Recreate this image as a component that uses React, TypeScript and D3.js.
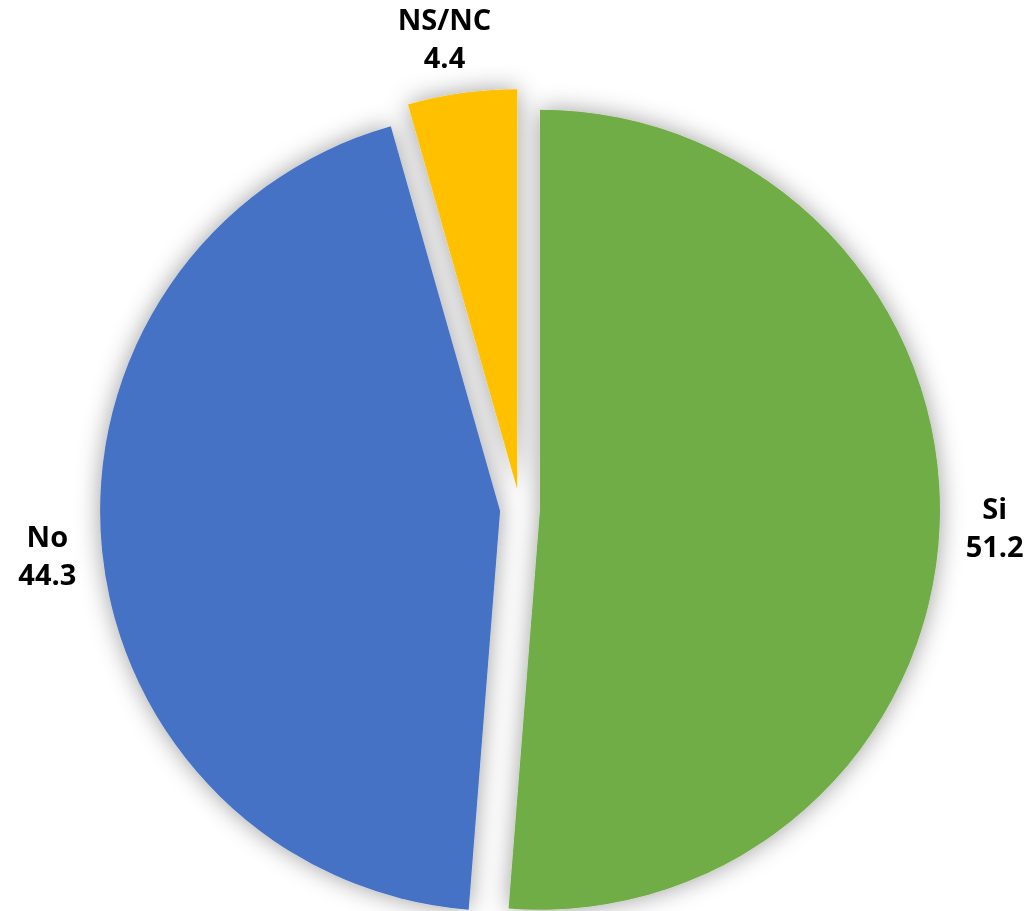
import React, { useEffect, useRef } from 'react';
import { select, pie, arc } from 'd3';

const categories = ['Si', 'No', 'NS/NC'];
const values = [51.2, 44.3, 4.4];
const colors = ['#70AD47', '#4472C4', '#FFC000'];

// small manual label nudges (Excel puts labels a bit off the radial line)
const labelNudge: Record<string, [number, number]> = {
  Si: [0, 0],
  No: [0, 0],
  'NS/NC': [-10, 0],
};

const W = 1031;
const H = 911;

interface Slice {
  label: string;
  value: number;
  color: string;
}

const App: React.FC = () => {
  const svgRef = useRef<SVGSVGElement>(null);

  useEffect(() => {
    document.body.style.margin = '0';
    if (!svgRef.current) return;
    const svg = select(svgRef.current);
    svg.selectAll('*').remove();

    const cx = 520;
    const cy = 509;
    const radius = 400;
    const explode = 20;
    const labelR = 455;

    const data: Slice[] = categories.map((c, i) => ({ label: c, value: values[i], color: colors[i] }));

    const pieGen = pie<Slice>().sort(null).value(d => d.value);
    const arcs = pieGen(data);
    const arcGen = arc<any>().innerRadius(0).outerRadius(radius);

    const defs = svg.append('defs');
    const filter = defs.append('filter')
      .attr('id', 'soft')
      .attr('x', '-20%').attr('y', '-20%')
      .attr('width', '140%').attr('height', '140%');
    filter.append('feGaussianBlur').attr('in', 'SourceAlpha').attr('stdDeviation', 12).attr('result', 'b');
    filter.append('feFlood').attr('flood-color', '#000').attr('flood-opacity', 0.38).attr('result', 'f');
    filter.append('feComposite').attr('in', 'f').attr('in2', 'b').attr('operator', 'in').attr('result', 's');
    const merge = filter.append('feMerge');
    merge.append('feMergeNode').attr('in', 's');
    merge.append('feMergeNode').attr('in', 'SourceGraphic');

    svg.append('rect').attr('width', W).attr('height', H).attr('fill', '#fff');

    const g = svg.append('g')
      .attr('transform', `translate(${cx},${cy})`)
      .attr('filter', 'url(#soft)');

    const offset = (d: any, r: number): [number, number] => {
      const a = (d.startAngle + d.endAngle) / 2;
      return [Math.sin(a) * r, -Math.cos(a) * r];
    };

    g.selectAll('path')
      .data(arcs)
      .join('path')
      .attr('transform', d => {
        const [x, y] = offset(d, explode);
        return `translate(${x},${y})`;
      })
      .attr('d', arcGen as any)
      .attr('fill', d => d.data.color);

    const labels = svg.append('g')
      .attr('transform', `translate(${cx},${cy})`)
      .style('font-family', '"Open Sans", "Liberation Sans", sans-serif')
      .style('font-weight', 700)
      .style('font-size', '29px')
      .attr('fill', '#000')
      .attr('text-anchor', 'middle');

    arcs.forEach(d => {
      const [ex, ey] = offset(d, explode);
      const [lx, ly] = offset(d, labelR);
      const [nx, ny] = labelNudge[d.data.label] || [0, 0];
      const x = ex + lx + nx;
      const y = ey + ly + ny;
      const t = labels.append('text');
      t.append('tspan').attr('x', x).attr('y', y - 9).text(d.data.label);
      t.append('tspan').attr('x', x).attr('y', y + 29).text(d.data.value.toFixed(1));
    });
  }, []);

  return <svg ref={svgRef} width={W} height={H} style={{ display: 'block' }} />;
};

export default App;
